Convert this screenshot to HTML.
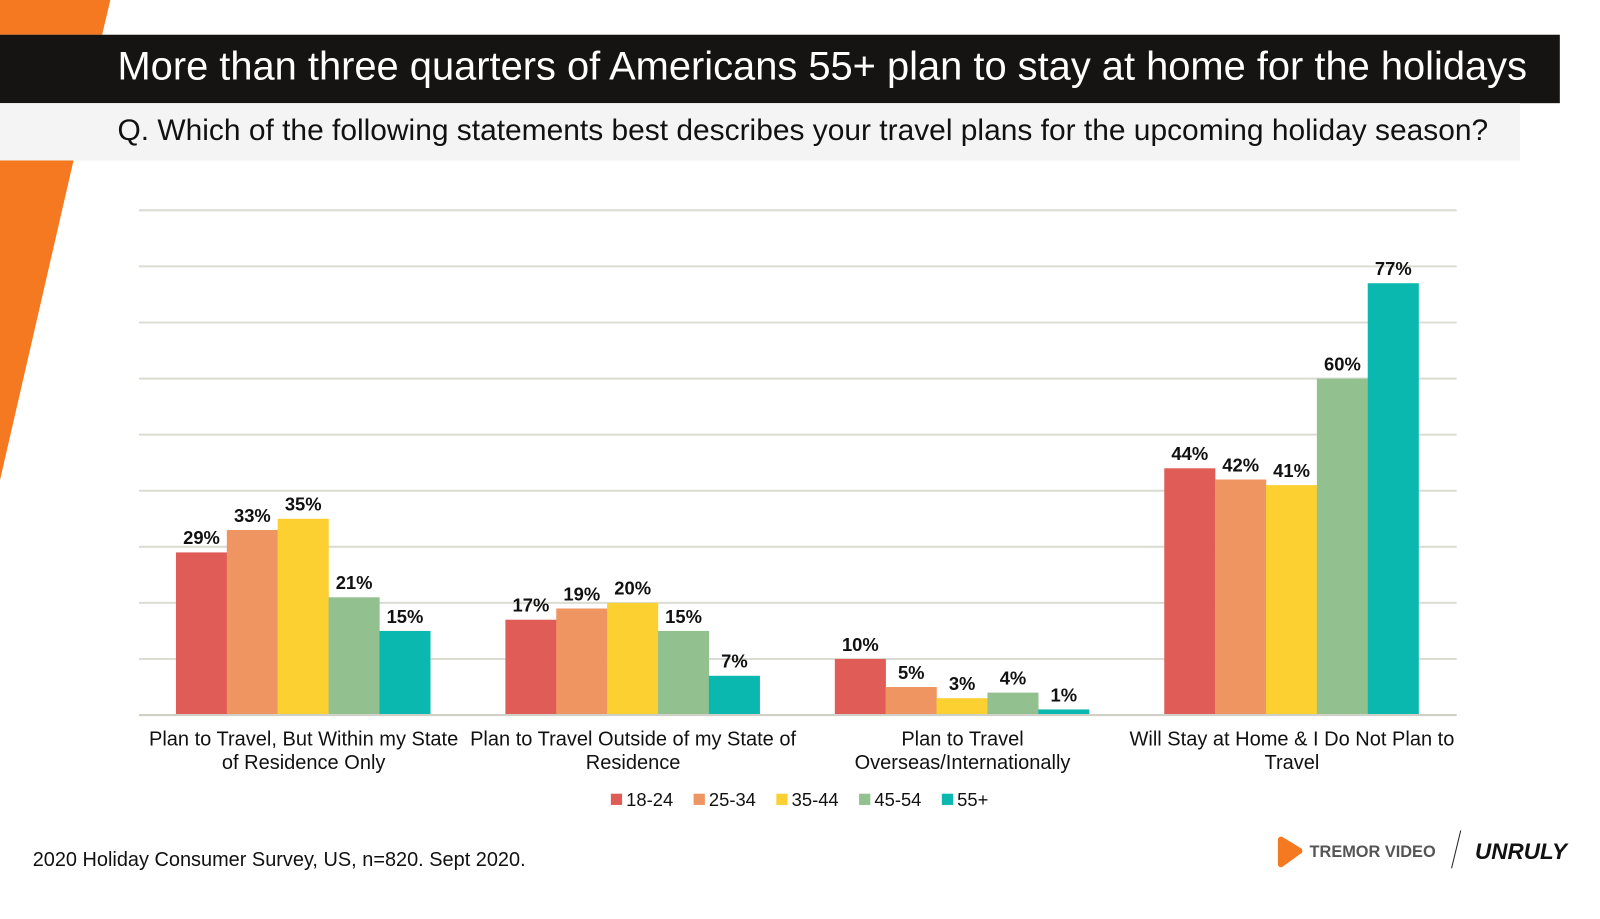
<!DOCTYPE html>
<html><head><meta charset="utf-8"><style>
body{margin:0;width:1600px;height:900px;background:#fff;overflow:hidden;font-family:"Liberation Sans",sans-serif;position:relative}
#wrap{position:absolute;left:0;top:0;width:1567px;height:882px;transform:scale(1.0215);transform-origin:0 0}
.abs{position:absolute}
</style></head><body>
<div id="wrap">
<svg class="abs" style="left:0;top:0" width="1600" height="900">
<polygon points="0,0 108,0 100,34 0,34" fill="#f47920"/>
<polygon points="0,157 72,157 0,470" fill="#f47920"/>
<rect x="0" y="34" width="1527" height="67" fill="#151412"/>
<rect x="0" y="101" width="1488" height="56" fill="#f4f4f4"/>
</svg>
<div class="abs" style="left:115px;top:44px;color:#fff;font-size:39px;white-space:nowrap">More than three quarters of Americans 55+ plan to stay at home for the holidays</div>
<div class="abs" style="left:115px;top:111px;color:#111;font-size:29.3px;white-space:nowrap">Q. Which of the following statements best describes your travel plans for the upcoming holiday season?</div>
<svg id="chart" class="abs" style="left:0;top:0" width="1600" height="900"></svg>
<div class="abs" style="left:32px;top:831px;font-size:19.5px;color:#111">2020 Holiday Consumer Survey, US, n=820. Sept 2020.</div>
<svg class="abs" style="left:1240px;top:810px" width="310" height="50">
<path d="M14,12 L32,23 L14,36 Z" fill="#f47920" stroke="#f47920" stroke-width="6" stroke-linejoin="round"/>
<text x="42" y="29" font-family="Liberation Sans" font-weight="bold" font-size="16" fill="#555">TREMOR VIDEO</text>
<line x1="190" y1="3" x2="181" y2="40" stroke="#222" stroke-width="1"/>
<text x="204" y="31" font-family="Liberation Sans" font-weight="bold" font-style="italic" font-size="22" fill="#111">UNRULY</text>
</svg>
</div>
<script>
const categories=[["Plan to Travel, But Within my State","of Residence Only"],["Plan to Travel Outside of my State of","Residence"],["Plan to Travel","Overseas/Internationally"],["Will Stay at Home & I Do Not Plan to","Travel"]];
const seriesNames=["18-24","25-34","35-44","45-54","55+"];
const s1824=[29,17,10,44];
const s2534=[33,19,5,42];
const s3544=[35,20,3,41];
const s4554=[21,15,4,60];
const s55=[15,7,1,77];
const colors=["#e05c56","#ee9562","#fbd030","#92c18f","#0bb8b0"];
const series=[s1824,s2534,s3544,s4554,s55];
const NS="http://www.w3.org/2000/svg";
const svg=document.getElementById('chart');
const x0=136,x1=1426,yBase=700,pxPer=5.49;
const y=v=>yBase-v*pxPer;
const bw=(x1-x0)/categories.length;
function mk(t,a){const e=document.createElementNS(NS,t);for(const k in a)e.setAttribute(k,a[k]);svg.appendChild(e);return e;}
for(let g=10;g<=90;g+=10){const l=mk('line',{x1:x0,x2:x1,y1:y(g),y2:y(g),stroke:'#dcdcd4','stroke-width':2});

}
categories.forEach((c,i)=>{
 const cx=x0+bw*(i+0.5);
 series.forEach((s,j)=>{
  const bx=cx-125+j*49.8;
  const r=mk('rect',{x:bx,y:y(s[i]),width:50,height:s[i]*pxPer,fill:colors[j]});
  
  
  const t=mk('text',{x:bx+25,y:y(s[i])-8,'text-anchor':'middle','font-size':18,'font-weight':'bold',fill:'#111','font-family':'Liberation Sans'});
  t.textContent=s[i]+'%';
  
  
 });
 c.forEach((ln,k)=>{const t=mk('text',{x:cx,y:730+k*23,'text-anchor':'middle','font-size':19.6,fill:'#111','font-family':'Liberation Sans'});
  t.textContent=ln;
  
  });
});
const ax=mk('line',{x1:x0,x2:x1,y1:yBase,y2:yBase,stroke:'#d0d0c8','stroke-width':2});


let lx=598;
seriesNames.forEach((n,j)=>{
 const r=mk('rect',{x:lx,y:777,width:11,height:11,fill:colors[j]});
 
 
 const t=mk('text',{x:lx+15,y:789,'font-size':18,fill:'#111','font-family':'Liberation Sans'});
 t.textContent=n;
 
 
 lx+=81;
});
</script>
</body></html>
